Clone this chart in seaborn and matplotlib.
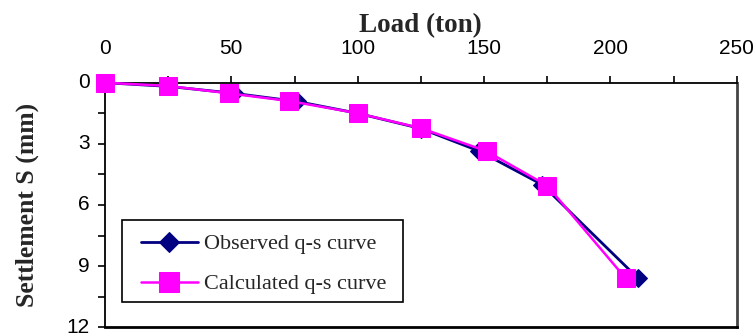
import matplotlib
matplotlib.use("Agg")
import matplotlib.pyplot as plt
import matplotlib.transforms as mtransforms
import seaborn as sns
import pandas as pd
from matplotlib.patches import Rectangle
from matplotlib.ticker import MultipleLocator

# Pile load test: load vs settlement
obs_load = [0, 25, 51, 76, 100, 125, 148, 173, 211]
obs_settle = [0, 0.18, 0.52, 0.92, 1.5, 2.25, 3.35, 5.0, 9.6]
calc_load = [0, 25, 49, 73, 100, 125, 151, 175, 206]
calc_settle = [0, 0.16, 0.52, 0.9, 1.5, 2.23, 3.36, 5.05, 9.59]

x_ticks = [0, 50, 100, 150, 200, 250]
y_ticks = [0, 3, 6, 9, 12]

sns.set_theme(style="white")
plt.rcParams["font.family"] = ["Liberation Sans", "DejaVu Sans"]

fig = plt.figure(figsize=(7.56, 3.36), dpi=100)
ax_w, ax_h = 631.7, 244.6
ax = fig.add_axes([105 / 756, 8.7 / 336, ax_w / 756, ax_h / 336])

obs = pd.DataFrame({"load": obs_load, "settle": obs_settle})
calc = pd.DataFrame({"load": calc_load, "settle": calc_settle})

sns.lineplot(data=obs, x="load", y="settle", sort=False, ax=ax,
             color="#000080", linewidth=2.0, marker="D", markersize=9,
             markeredgecolor="#000080", label="Observed q-s curve",
             clip_on=False, zorder=3)
sns.lineplot(data=calc, x="load", y="settle", sort=False, ax=ax,
             color="#ff00ff", linewidth=1.8, marker="s", markersize=13,
             markeredgecolor="#ff00ff", label="Calculated q-s curve",
             clip_on=False, zorder=4)

ax.set_xlim(0, 250)
ax.set_ylim(12, 0)
ax.xaxis.set_ticks_position("top")
ax.xaxis.set_label_position("top")
ax.set_xticks(x_ticks)
ax.set_yticks(y_ticks)
ax.xaxis.set_minor_locator(MultipleLocator(25))
ax.yaxis.set_minor_locator(MultipleLocator(1.5))
ax.tick_params(axis="both", which="both", direction="out", length=5,
               width=1.2, color="black", labelsize=15, labelcolor="black")
ax.tick_params(axis="x", which="both", top=True, bottom=False, pad=13)
ax.tick_params(axis="y", which="both", left=True, right=False, pad=6)

# nudge the settlement tick labels up slightly so the digits sit centred
lift = mtransforms.ScaledTranslation(0, 2 / 100, fig.dpi_scale_trans)
for lbl in ax.get_yticklabels():
    lbl.set_transform(lbl.get_transform() + lift)

ax.set_xlabel("Load (ton)", fontsize=19.5, fontweight="bold",
              family="Liberation Serif", labelpad=5)
ax.set_ylabel("Settlement S (mm)", fontsize=18.5, fontweight="bold",
              family="Liberation Serif", labelpad=20)

for side in ["top", "left"]:
    ax.spines[side].set_color("black")
    ax.spines[side].set_linewidth(1.3)
ax.spines["right"].set_color("#444444")
ax.spines["right"].set_linewidth(2.0)
ax.spines["bottom"].set_color("black")
ax.spines["bottom"].set_linewidth(2.0)

# Legend entries without their own frame; a separate box is drawn around them
leg = ax.legend(loc="upper left", bbox_to_anchor=(35.7 / ax_w, 93.5 / ax_h),
                prop={"family": "Liberation Serif", "size": 16},
                frameon=False, handlelength=2.58, borderpad=0,
                labelspacing=0.88, handletextpad=0.27, borderaxespad=0)
for h in leg.legend_handles:
    h.set_clip_on(False)
leg.legend_handles[0].set_markersize(10)
leg.legend_handles[1].set_markersize(15)

ax.add_patch(Rectangle((16.7 / ax_w, 25.6 / ax_h), 281.3 / ax_w, 81.7 / ax_h,
                       transform=ax.transAxes, facecolor="white",
                       edgecolor="black", linewidth=1.2, zorder=2,
                       clip_on=False))

fig.savefig("out.png", dpi=100)
